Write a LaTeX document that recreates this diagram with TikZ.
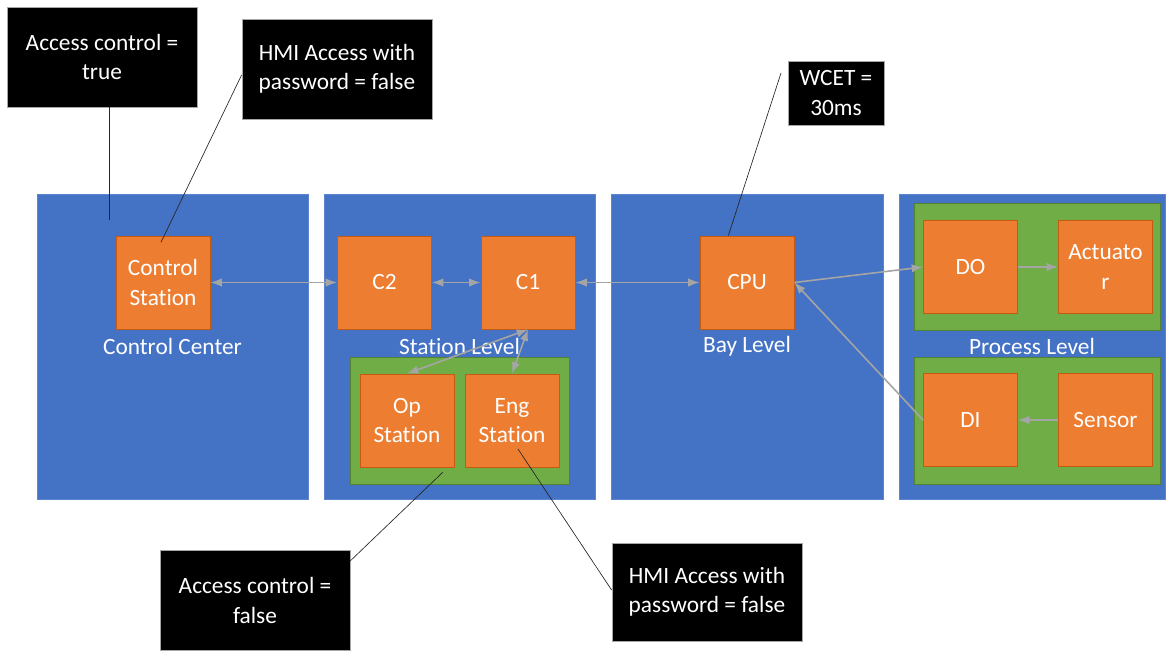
\documentclass[tikz,border=0pt]{standalone}
\usepackage{fontspec}
\setmainfont{Carlito}[Ligatures=NoCommon]
\usetikzlibrary{arrows.meta}
\definecolor{levelblue}{HTML}{4472C4}
\definecolor{leveledge}{HTML}{5B85CF}
\definecolor{unitorange}{HTML}{ED7D31}
\definecolor{unitedge}{HTML}{C55A11}
\definecolor{zonegreen}{HTML}{70AD47}
\definecolor{zoneedge}{HTML}{548235}
\definecolor{linkgray}{HTML}{A5A5A5}

\begin{document}
\begin{tikzpicture}[x=0.75pt, y=-0.75pt,
    every node/.style={font=\fontsize{17.5}{22}\selectfont, text=white, align=center, inner sep=0pt},
    level/.style={fill=levelblue, draw=leveledge, line width=0.6pt, minimum height=228.75pt},
    zone/.style={fill=zonegreen, draw=zoneedge, line width=0.6pt, minimum width=164.25pt, minimum height=95.25pt},
    unit/.style={fill=unitorange, draw=unitedge, line width=0.6pt, minimum width=70.5pt, minimum height=69.75pt},
    note/.style={fill=black, draw=gray!70, line width=0.6pt, minimum width=142.5pt, minimum height=75pt},
    callout/.style={draw=black!85, line width=0.5pt},
    link/.style={draw=linkgray, line width=1.2pt}]
    \useasboundingbox (0,0) rectangle (1166,650);
    % levels
    \node[level, minimum width=203.25pt] (cc) at (172.5,346.5) {Control Center};
    \node[level, minimum width=203.25pt] (sl) at (459.5,346.5) {Station Level};
    \node[level, minimum width=204pt]    (bl) at (747,346.5)   {Bay Level};
    \node[level, minimum width=199.5pt]  (pl) at (1032,346.5)  {Process Level};
    % green zones
    \node[zone] (opzone) at (459.5,420.5) {};
    \node[zone, minimum width=184.5pt] (outzone) at (1037,267) {};
    \node[zone, minimum width=184.5pt] (inzone)  at (1037,420.5) {};
    % units
    \node[unit] (cs)  at (163,282.5)   {Control\\Station};
    \node[unit] (c2)  at (384.5,282.5) {C2};
    \node[unit] (c1)  at (528,282.5)   {C1};
    \node[unit] (cpu) at (747,282.5)   {CPU};
    \node[unit] (op)  at (407,420.5)   {Op\\Station};
    \node[unit] (eng) at (512,420.5)   {Eng\\Station};
    \node[unit] (do)  at (970.5,267)   {DO};
    \node[unit] (act) at (1105.5,267)  {Actuato\\r};
    \node[unit] (di)  at (970.5,420)   {DI};
    \node[unit] (sen) at (1105.5,420)  {Sensor};
    % notes
    \node[note] (acctrue)  at (102,57)    {Access control =\\true};
    \node[note] (hmitop)   at (337,69)    {HMI Access with\\password = false};
    \node[note, minimum width=72pt, minimum height=48pt] (wcet) at (836,93) {WCET =\\30ms};
    \node[note] (accfalse) at (255,600.5) {Access control =\\false};
    \node[note, minimum height=73.5pt] (hmibot) at (707,592) {HMI Access with\\password = false};
    % callout ends
    \coordinate (ccpt)   at (109,220);
    \coordinate (wcetpt) at (781,73);
    \coordinate (oppt)   at (443,472);
    \coordinate (engpt)  at (518,449);
    \draw[callout] (acctrue.south -| ccpt) -- (ccpt);
    \draw[callout] ([yshift=-4.5pt]hmitop.west) -- ([xshift=-1.5pt, yshift=-5pt]cs.north);
    \draw[callout] (wcetpt) -- ([xshift=-14pt]cpu.north);
    \draw[callout] ([yshift=-8pt]accfalse.north east) -- (oppt);
    \draw[callout] ([yshift=1.5pt]hmibot.west) -- (engpt);
    % links
    \path[every edge/.append style={link, {Latex[length=3mm, width=2.2mm]}-{Latex[length=3mm, width=2.2mm]}}]
      (cs) edge (c2)
      (c2) edge (c1)
      (c1) edge (cpu)
      (c1.south) edge (op.north)
                 edge (eng.north);
    \path[every edge/.append style={link, -{Latex[length=3mm, width=2.2mm]}}]
      (cpu.east) edge (do.west)
      (di.west)  edge (cpu.east)
      (do)  edge (act)
      (sen) edge (di);
\end{tikzpicture}
\end{document}
